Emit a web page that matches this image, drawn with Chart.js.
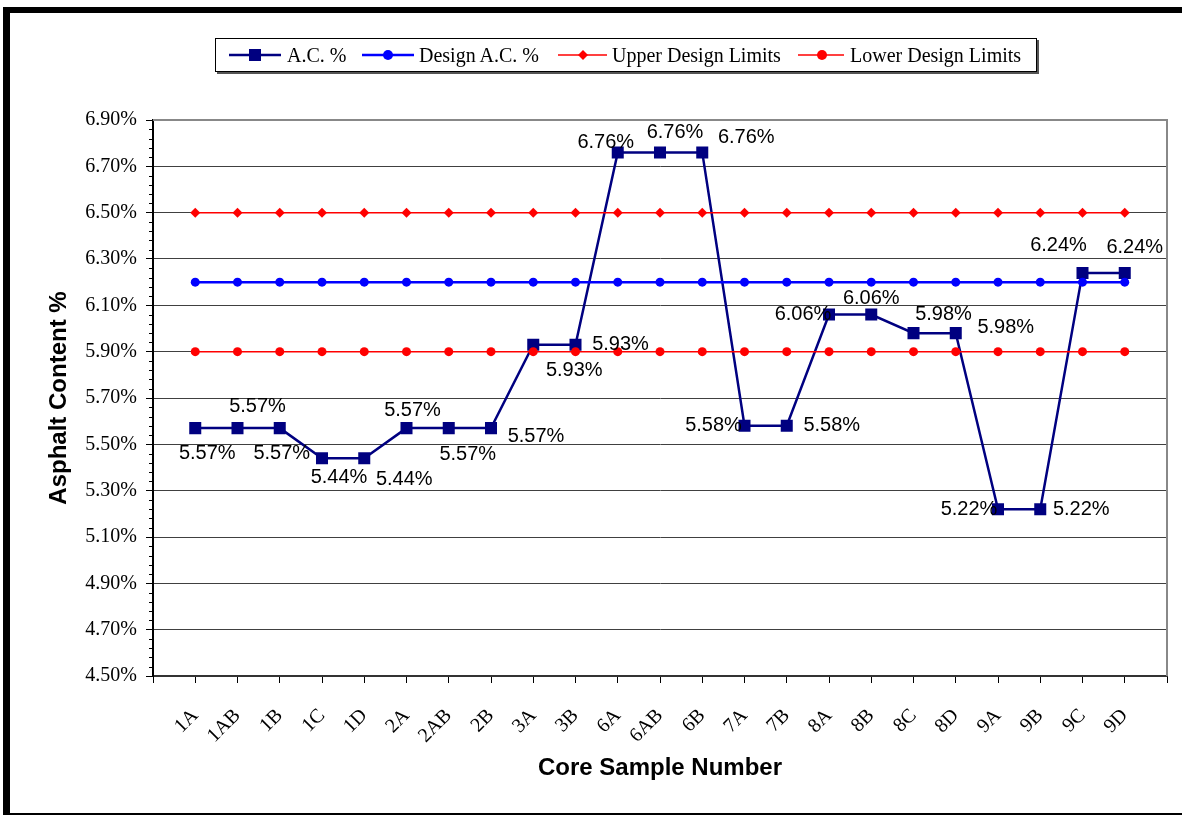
<!DOCTYPE html>
<html>
<head>
<meta charset="utf-8">
<script src="https://cdn.jsdelivr.net/npm/chart.js@4.4.1/dist/chart.umd.min.js"></script>
<style>
  html, body { margin: 0; padding: 0; background: #fff; }
  #wrap { position: relative; width: 1182px; height: 816px; overflow: hidden; }
  #frame { position: absolute; left: 3px; top: 7px; width: 1220px; height: 808px; box-sizing: border-box;
           border-top: 6px solid #000; border-left: 7px solid #000; border-bottom: 2px solid #000; pointer-events: none; }
  #legend { position: absolute; left: 215px; top: 38px; width: 822px; height: 34px; box-sizing: border-box;
            border: 1px solid #000; box-shadow: 2px 2px 0 #555; background: #fff;
            font-family: "Liberation Serif", "Times New Roman", serif; font-size: 20px; color: #000; }
  #legend svg, #legend span { position: absolute; top: 0; }
  #legend span { line-height: 32px; white-space: nowrap; }
</style>
</head>
<body>
<div id="wrap">
  <canvas id="chart" width="1182" height="816"></canvas>
  <div id="legend">
    <svg style="left:13px" width="52" height="32"><line x1="0" y1="16" x2="52" y2="16" stroke="#000080" stroke-width="2.5"/><rect x="20" y="10" width="12" height="12" fill="#000080"/></svg>
    <span style="left:71px">A.C. %</span>
    <svg style="left:146px" width="52" height="32"><line x1="0" y1="16" x2="52" y2="16" stroke="#0000ff" stroke-width="2.5"/><circle cx="26" cy="16" r="5" fill="#0000ff"/></svg>
    <span style="left:203px">Design A.C. %</span>
    <svg style="left:342px" width="49" height="32"><line x1="0" y1="16" x2="49" y2="16" stroke="#ff0000" stroke-width="1.5"/><polygon points="25,11 30,16 25,21 20,16" fill="#ff0000"/></svg>
    <span style="left:396px">Upper Design Limits</span>
    <svg style="left:582px" width="46" height="32"><line x1="0" y1="16" x2="46" y2="16" stroke="#ff0000" stroke-width="1.5"/><circle cx="24" cy="16" r="5" fill="#ff0000"/></svg>
    <span style="left:634px">Lower Design Limits</span>
  </div>
  <div id="frame"></div>
</div>
<script>
const categories = ['1A', '1AB', '1B', '1C', '1D', '2A', '2AB', '2B', '3A', '3B', '6A', '6AB',
                    '6B', '7A', '7B', '8A', '8B', '8C', '8D', '9A', '9B', '9C', '9D'];
const acValues = [5.57, 5.57, 5.57, 5.44, 5.44, 5.57, 5.57, 5.57, 5.93, 5.93, 6.76, 6.76,
                  6.76, 5.58, 5.58, 6.06, 6.06, 5.98, 5.98, 5.22, 5.22, 6.24, 6.24];
const designValues = [6.20, 6.20, 6.20, 6.20, 6.20, 6.20, 6.20, 6.20, 6.20, 6.20, 6.20, 6.20,
                      6.20, 6.20, 6.20, 6.20, 6.20, 6.20, 6.20, 6.20, 6.20, 6.20, 6.20];
const upperValues = [6.50, 6.50, 6.50, 6.50, 6.50, 6.50, 6.50, 6.50, 6.50, 6.50, 6.50, 6.50,
                     6.50, 6.50, 6.50, 6.50, 6.50, 6.50, 6.50, 6.50, 6.50, 6.50, 6.50];
const lowerValues = [5.90, 5.90, 5.90, 5.90, 5.90, 5.90, 5.90, 5.90, 5.90, 5.90, 5.90, 5.90,
                     5.90, 5.90, 5.90, 5.90, 5.90, 5.90, 5.90, 5.90, 5.90, 5.90, 5.90];
const yTicks = { min: 4.5, max: 6.9, step: 0.2 };

// where each A.C. % value label sits relative to its marker (px)
const labelOffsets = [[12, 25], [20, -22], [2, 25], [17, 19], [40, 21], [6, -18], [19, 26], [45, 8],
                      [41, 26], [45, 0], [-12, -10], [15, -20], [44, -15], [-31, 0], [45, 0],
                      [-26, 0], [0, -16], [30, -19], [50, -6], [-29, 0], [41, 0], [-24, -27], [10, -25]];

// empty slot on both ends, like the Excel axis
const pad = arr => [null, ...arr, null];
const labels = ['', ...categories, ''];

const serif = '"Liberation Serif", "Times New Roman", serif';
const sans = '"Liberation Sans", Arial, sans-serif';

const valueLabels = {
  id: 'valueLabels',
  afterDatasetsDraw(chart) {
    const meta = chart.getDatasetMeta(0);
    const ctx = chart.ctx;
    ctx.save();
    ctx.font = '20px ' + sans;
    ctx.fillStyle = '#000';
    ctx.textAlign = 'center';
    ctx.textBaseline = 'middle';
    acValues.forEach((v, i) => {
      const pt = meta.data[i + 1];
      ctx.fillText(v.toFixed(2) + '%', pt.x + labelOffsets[i][0], pt.y + labelOffsets[i][1]);
    });
    ctx.restore();
  }
};

const plotFrame = {
  id: 'plotFrame',
  beforeDatasetsDraw(chart) {
    const { ctx, chartArea: a, scales } = chart;
    ctx.save();
    ctx.strokeStyle = '#888';
    ctx.lineWidth = 2;
    ctx.beginPath();
    ctx.moveTo(a.left, a.top);
    ctx.lineTo(a.right, a.top);
    ctx.lineTo(a.right, a.bottom);
    ctx.stroke();
    // minor ticks on the value axis
    ctx.strokeStyle = '#000';
    ctx.lineWidth = 1;
    const n = Math.round((yTicks.max - yTicks.min) / 0.04);
    for (let i = 0; i <= n; i++) {
      if (i % 5 === 0) continue;
      const y = Math.round(scales.y.getPixelForValue(yTicks.min + i * 0.04)) + 0.5;
      ctx.beginPath();
      ctx.moveTo(a.left - 4, y);
      ctx.lineTo(a.left, y);
      ctx.stroke();
    }
    ctx.restore();
  }
};

new Chart(document.getElementById('chart'), {
  type: 'line',
  data: {
    labels: labels,
    datasets: [
      {
        label: 'A.C. %', data: pad(acValues), order: 4,
        borderColor: '#000080', backgroundColor: '#000080', borderWidth: 2.5,
        pointStyle: 'rect', pointRadius: 8.5, pointBorderWidth: 0, tension: 0
      },
      {
        label: 'Design A.C. %', data: pad(designValues), order: 3,
        borderColor: '#0000ff', backgroundColor: '#0000ff', borderWidth: 2.5,
        pointStyle: 'circle', pointRadius: 4.5, pointBorderWidth: 0
      },
      {
        label: 'Upper Design Limits', data: pad(upperValues), order: 2,
        borderColor: '#ff0000', backgroundColor: '#ff0000', borderWidth: 1.5,
        pointStyle: 'rectRot', pointRadius: 5, pointBorderWidth: 0
      },
      {
        label: 'Lower Design Limits', data: pad(lowerValues), order: 1,
        borderColor: '#ff0000', backgroundColor: '#ff0000', borderWidth: 1.5,
        pointStyle: 'circle', pointRadius: 4.5, pointBorderWidth: 0
      }
    ]
  },
  options: {
    responsive: false,
    animation: false,
    devicePixelRatio: 1,
    layout: { padding: { left: 0, top: 120, right: 15, bottom: 0 } },
    plugins: { legend: { display: false }, tooltip: { enabled: false } },
    scales: {
      x: {
        offset: false,
        grid: { drawOnChartArea: false, tickLength: 7, tickColor: '#000', lineWidth: 1 },
        border: { color: '#333', width: 2 },
        ticks: {
          autoSkip: false, maxRotation: 45, minRotation: 45, padding: 21,
          color: '#000', font: { family: serif, size: 20 }
        },
        title: {
          display: true, text: 'Core Sample Number', color: '#000',
          font: { family: sans, size: 24, weight: 'bold' }, padding: { top: 33, bottom: 33 }
        },
        afterFit: s => { s.height = 140; s.paddingLeft = 0; s.paddingRight = 0; }
      },
      y: {
        min: yTicks.min, max: yTicks.max,
        grid: { color: '#404040', lineWidth: 1, tickLength: 7, tickColor: '#000' },
        border: { color: '#000', width: 2 },
        ticks: {
          stepSize: yTicks.step, padding: 9, color: '#000',
          font: { family: serif, size: 20 },
          callback: v => v.toFixed(2) + '%'
        },
        title: {
          display: true, text: 'Asphalt Content %', color: '#000',
          font: { family: sans, size: 24, weight: 'bold' }, padding: { top: 45, bottom: 45 }
        },
        afterFit: s => { s.width = 153; }
      }
    }
  },
  plugins: [plotFrame, valueLabels]
});
</script>
</body>
</html>
